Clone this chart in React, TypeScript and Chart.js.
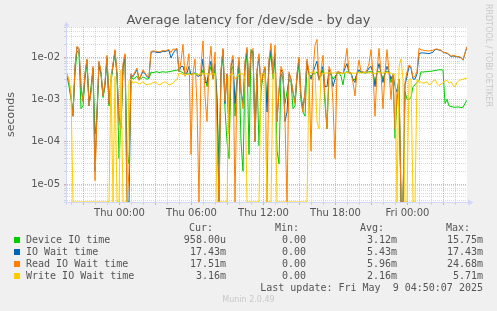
import React, { useEffect, useRef } from 'react';
import { Chart, registerables } from 'chart.js';

Chart.register(...registerables);

// ---- time axis (hours relative to Thu 00:00) ----
const START_HOUR = -4.375; // first sample, Wed 19:37
const STEP_HOUR = 1 / 6; // one sample every 10 minutes
const X_MIN = -4.375;
const X_MAX = 28.958;
const X_TICK_LABELS: Record<string, string> = {
  '0': 'Thu 00:00',
  '6': 'Thu 06:00',
  '12': 'Thu 12:00',
  '18': 'Thu 18:00',
  '24': 'Fri 00:00',
};

// ---- value axis (seconds, logarithmic) ----
const Y_MIN = 3.76e-6;
const Y_MAX = 0.0512;
const Y_TICK_LABELS: Record<string, string> = {
  '-5': '1e-05',
  '-4': '1e-04',
  '-3': '1e-03',
  '-2': '1e-02',
};

// ---- series ----
const SERIES_NAMES = ['Device IO time', 'IO Wait time', 'Read IO Wait time', 'Write IO Wait time'];
const SERIES_COLORS = ['#00CC00', '#0066B3', '#FF8000', '#FFCC00'];

const READ_WAIT = [
  0.004, 0.0025, 0.0012, 0.0004, 0.006, 0.018, 0.016, 0.002, 0.0009, 0.004,
  0.009, 0.0007, 0.0015, 0.006, 0.000012, 0.0005, 0.008, 0.0045, 0.0012, 0.0025,
  0.011, 0.0008, 0.003, 0.007, 0.015, 0.004, 0.0003, 0.0002, 0.007, 0.012,
  0, 0.00002, 0.004, 0.0035, 0.0045, 0.0055, 0.0028, 0.0038, 0.005, 0.0042,
  0.0036, 0.0034, 0.0135, 0.014, 0.0138, 0.0135, 0.0132, 0.0137, 0.0142, 0.0139,
  0.0145, 0.015, 0.0128, 0.0155, 0.0152, 0.016, 0.0045, 0.008, 0.02, 0.0035,
  0.006, 0.012, 0.00005, 0.0042, 0.009, 0.0007, 0, 0.006, 0.024, 0.0012,
  0.0003, 0.006, 0.018, 0.003, 0.013, 0.0002, 0, 0.005, 0.016, 0.0009,
  0.004, 0.00015, 0.007, 0.011, 0, 0.003, 0.01, 0.0015, 0.0006, 0.008,
  0.017, 0.002, 0.014, 0.016, 0.0001, 0.005, 0.012, 0.002, 0.004, 0.006,
  0, 0.009, 0.021, 0.004, 0.019, 0.0003, 0.0017, 0.006, 0.0045, 0.0003,
  0, 0.0045, 0.003, 0.0015, 0.0008, 0.004, 0.01, 0.0012, 0.0005, 0.0015,
  0.009, 0.0042, 0.00006, 0.0045, 0.019, 0.026, 0.0028, 0.0045, 0.011, 0.0012,
  0.0002, 0.006, 0.0045, 0.0008, 0.00004, 0.0045, 0.0045, 0.0042, 0.004, 0.0075,
  0.016, 0.0043, 0.0042, 0.0025, 0.0012, 0.0042, 0.0085, 0.0045, 0.0045, 0.0043,
  0.005, 0.007, 0.015, 0.0042, 0.0004, 0.0045, 0.016, 0.0042, 0.0006, 0.0043,
  0.015, 0.0045, 0.001, 0.004, 0.0002, 0.0015, 0.003, 0, 0, 0.0025,
  0.0045, 0.0065, 0.006, 0.0033, 0.0035, 0.0045, 0.016, 0.0148, 0.0145, 0.0142,
  0.014, 0.0139, 0.0142, 0.0145, 0.0152, 0.0155, 0.0148, 0.0146, 0.013, 0.0128,
  0.0125, 0.0115, 0.0105, 0.0108, 0.0106, 0.0103, 0.0102, 0.0098, 0.0085, 0.0125,
  0.01751,
];

const IO_WAIT = [
  0.004, 0.0025, 0.0012, 0.0004, 0.006, 0.017, 0.015, 0.002, 0.0009, 0.004,
  0.0085, 0.0007, 0.0015, 0.0055, 0.00002, 0.0005, 0.0075, 0.0042, 0.0012, 0.0024,
  0.01, 0.0008, 0.003, 0.0065, 0.014, 0.004, 0.0004, 0.0002, 0.006, 0.011,
  0, 0, 0.004, 0.0034, 0.0042, 0.005, 0.003, 0.0036, 0.0046, 0.004,
  0.0034, 0.0033, 0.013, 0.0133, 0.0133, 0.0128, 0.0127, 0.013, 0.0136, 0.0134,
  0.014, 0.0143, 0.0095, 0.012, 0.0145, 0.0152, 0.0045, 0.006, 0.006, 0.004,
  0.0042, 0.006, 0.0038, 0.0041, 0.0042, 0.0036, 0.0035, 0.004, 0.009, 0.0025,
  0.0025, 0.005, 0.008, 0.0035, 0.007, 0.0012, 0, 0.0045, 0.015, 0.0008,
  0.004, 0.0002, 0.006, 0.009, 0.0008, 0.003, 0.008, 0.0015, 0.0008, 0.007,
  0.015, 0.002, 0.013, 0.014, 0.0001, 0.0045, 0.01, 0.002, 0.004, 0.0055,
  0.0005, 0.008, 0.015, 0.004, 0.012, 0.0003, 0.0015, 0.005, 0.004, 0.0003,
  0.0005, 0.004, 0.003, 0.0015, 0.0009, 0.0038, 0.009, 0.0012, 0.0006, 0.0015,
  0.008, 0.004, 0.003, 0.0043, 0.006, 0.008, 0.003, 0.0042, 0.006, 0.002,
  0.002, 0.005, 0.004, 0.002, 0.003, 0.0043, 0.0043, 0.0042, 0.004, 0.0055,
  0.007, 0.0042, 0.0042, 0.003, 0.0025, 0.0042, 0.005, 0.0044, 0.0044, 0.0042,
  0.0045, 0.0055, 0.006, 0.0042, 0.002, 0.0044, 0.007, 0.0042, 0.0025, 0.0042,
  0.006, 0.0044, 0.003, 0.004, 0.002, 0.0015, 0.003, 0, 0, 0.0022,
  0.0035, 0.006, 0.0055, 0.003, 0.003, 0.004, 0.012, 0.0125, 0.0125, 0.0124,
  0.0122, 0.012, 0.0125, 0.013, 0.015, 0.0152, 0.0146, 0.0144, 0.0128, 0.0126,
  0.0122, 0.0113, 0.0103, 0.0106, 0.0104, 0.0101, 0.01, 0.0096, 0.0084, 0.0123,
  0.01743,
];

const DEVICE_IO = [
  0.0035, 0.002, 0.001, 0.0005, 0.004, 0.014, 0.012, 0.0006, 0.0007, 0.003,
  0.007, 0.0008, 0.002, 0.005, 0.00015, 0.0004, 0.006, 0.004, 0.0011, 0.002,
  0.009, 0.0007, 0.0025, 0.006, 0.013, 0.0035, 0.00004, 0.0003, 0.0055, 0.009,
  0.00006, 0.00003, 0.0035, 0.003, 0.0032, 0.0035, 0.0029, 0.0031, 0.0034, 0.0032,
  0.003, 0.0031, 0.0044, 0.0043, 0.0044, 0.0045, 0.0043, 0.0044, 0.0045, 0.0044,
  0.0044, 0.0045, 0.0046, 0.0047, 0.0048, 0.0049, 0.005, 0.0045, 0.0042, 0.0041,
  0.004, 0.004, 0.004, 0.004, 0.0041, 0.004, 0.0038, 0.0035, 0.005, 0.0035,
  0.002, 0.004, 0.006, 0.003, 0.005, 0.0008, 0.00003, 0.004, 0.011, 0.0006,
  0.0001, 0.00004, 0.005, 0.006, 0.0004, 0.002, 0.007, 0.0001, 0.00002, 0.005,
  0.012, 0.00005, 0.015, 0.012, 0.0002, 0.004, 0.00008, 0.0015, 0.004, 0.004,
  0.0009, 0.006, 0.012, 0.003, 0.01, 0.00006, 0.00003, 0.004, 0.003, 0.0008,
  0.0015, 0.003, 0.0025, 0.0006, 0.0007, 0.003, 0.007, 0.0009, 0.0005, 0.0004,
  0.006, 0.004, 0.0035, 0.004, 0.004, 0.0045, 0.003, 0.0035, 0.005, 0.0008,
  0.0002, 0.004, 0.004, 0.003, 0.0035, 0.004, 0.0042, 0.0035, 0.0022, 0.0043,
  0.0045, 0.0042, 0.0042, 0.0028, 0.003, 0.0042, 0.0045, 0.0043, 0.0044, 0.0042,
  0.0043, 0.0045, 0.0045, 0.0042, 0.0025, 0.0043, 0.0046, 0.0042, 0.003, 0.0042,
  0.0046, 0.0043, 0.0025, 0.0035, 0.00012, 0.001, 0.002, 0, 0, 0.0015,
  0.001, 0.001, 0.0011, 0.002, 0.0022, 0.0025, 0.0028, 0.0045, 0.0044, 0.0045,
  0.0045, 0.0046, 0.0046, 0.0047, 0.0048, 0.0049, 0.005, 0.005, 0.0049, 0.0008,
  0.001, 0.0007, 0.00068, 0.00066, 0.00065, 0.00066, 0.00066, 0.00064, 0.00065, 0.0008,
  0.000958,
];

const WRITE_WAIT = [
  0.004, 0.003, 0.0015, 0, 0, 0, 0, 0, 0, 0,
  0, 0, 0, 0, 0, 0, 0, 0, 0, 0,
  0, 0, 0.004, 0, 0.0035, 0, 0, 0.005, 0, 0,
  0, 0.0028, 0.003, 0.0024, 0.0026, 0.0025, 0.0023, 0.0024, 0.0026, 0.0023,
  0.0022, 0.0023, 0.0023, 0.0025, 0.0026, 0.0024, 0.0022, 0.0023, 0.0025, 0.0026,
  0.0024, 0.0022, 0.0023, 0.0024, 0.0028, 0.0029, 0.0042, 0.004, 0.0039, 0.0039,
  0.0039, 0.0039, 0.0039, 0.004, 0.004, 0.0039, 0.0039, 0.004, 0.004, 0.004,
  0.004, 0.0039, 0.004, 0.004, 0.004, 0, 0, 0, 0, 0,
  0, 0.0035, 0.004, 0.004, 0.003, 0.0035, 0.004, 0.004, 0.004, 0.003,
  0, 0, 0, 0, 0, 0, 0, 0.004, 0.004, 0.004,
  0, 0, 0, 0.004, 0.004, 0, 0, 0, 0, 0,
  0, 0, 0, 0, 0, 0, 0, 0, 0, 0,
  0, 0.0042, 0.0043, 0.0044, 0.0045, 0.0003, 0.0002, 0.004, 0.004, 0.0042,
  0.0042, 0.0042, 0.0042, 0.0042, 0.0042, 0.0042, 0.0042, 0.0041, 0.0041, 0.0043,
  0.0043, 0.0042, 0.0042, 0.0042, 0.0041, 0.0042, 0.0043, 0.0042, 0.0042, 0.0043,
  0.0042, 0.0042, 0.0043, 0.0041, 0.0041, 0.0043, 0.0044, 0.0042, 0.0042, 0.0043,
  0.0043, 0.0042, 0.0042, 0.0038, 0.004, 0, 0.006, 0.009, 0.003, 0,
  0, 0.003, 0.003, 0, 0, 0.003, 0.0025, 0.0026, 0.0024, 0.0025,
  0.0026, 0.0022, 0.0023, 0.0027, 0.0029, 0.0024, 0.0021, 0.0023, 0.0025, 0.0027,
  0.0028, 0.0024, 0.0026, 0.0021, 0.002, 0.0025, 0.0028, 0.0029, 0.003, 0.0031,
  0.00316,
];

const SERIES_VALUES = [DEVICE_IO, IO_WAIT, READ_WAIT, WRITE_WAIT];

// ---- legend statistics (as printed) ----
const LEGEND_CUR = ['958.00u', '17.43m', '17.51m', '3.16m'];
const LEGEND_MIN = ['0.00', '0.00', '0.00', '0.00'];
const LEGEND_AVG = ['3.12m', '5.43m', '5.96m', '2.16m'];
const LEGEND_MAX = ['15.75m', '17.43m', '24.68m', '5.71m'];

const TITLE = 'Average latency for /dev/sde - by day';
const Y_TITLE = 'seconds';
const LAST_UPDATE = 'Last update: Fri May  9 04:50:07 2025';
const FOOTER = 'Munin 2.0.49';
const WATERMARK = 'RRDTOOL / TOBI OETIKER';

const W = 497;
const H = 311;
const GRID_MINOR = 'rgba(143,143,143,0.33)';
const GRID_MAJOR = 'rgba(222,79,79,0.45)';
const AXIS_COLOR = '#CFD6F8';
const TEXT_COLOR = '#555555';

const framePlugin = {
  id: 'rrdFrame',
  beforeDraw(chart: any) {
    const { ctx, chartArea } = chart;
    ctx.save();
    ctx.fillStyle = '#FFFFFF';
    ctx.fillRect(chartArea.left, chartArea.top, chartArea.right - chartArea.left, chartArea.bottom - chartArea.top);
    ctx.restore();
  },
  afterDraw(chart: any) {
    const { ctx, chartArea } = chart;
    const { left, right, top, bottom } = chartArea;
    ctx.save();
    ctx.strokeStyle = AXIS_COLOR;
    ctx.fillStyle = AXIS_COLOR;
    ctx.lineWidth = 1;
    ctx.beginPath();
    ctx.moveTo(left - 0.5, bottom + 3);
    ctx.lineTo(left - 0.5, top - 3);
    ctx.moveTo(left - 3, bottom + 0.5);
    ctx.lineTo(right + 3, bottom + 0.5);
    ctx.stroke();
    ctx.beginPath();
    ctx.moveTo(left - 3.5, top - 0.5);
    ctx.lineTo(left + 2.5, top - 0.5);
    ctx.lineTo(left - 0.5, top - 5.5);
    ctx.closePath();
    ctx.fill();
    ctx.beginPath();
    ctx.moveTo(right + 1, bottom - 2.5);
    ctx.lineTo(right + 1, bottom + 3.5);
    ctx.lineTo(right + 6.5, bottom + 0.5);
    ctx.closePath();
    ctx.fill();
    ctx.restore();
  },
};

function ChartCanvas() {
  const ref = useRef<HTMLCanvasElement | null>(null);
  useEffect(() => {
    if (!ref.current) return;
    const datasets = SERIES_VALUES.map((vals, s) => ({
      label: SERIES_NAMES[s],
      data: vals.map((v, i) => ({ x: START_HOUR + i * STEP_HOUR, y: v > 0 ? v : Y_MIN })),
      borderColor: SERIES_COLORS[s],
      backgroundColor: SERIES_COLORS[s],
      borderWidth: 1,
      pointRadius: 0,
      tension: 0,
      fill: false,
      order: SERIES_VALUES.length - s,
    }));
    const chart = new Chart(ref.current, {
      type: 'line',
      data: { datasets },
      plugins: [framePlugin],
      options: {
        animation: false,
        responsive: false,
        devicePixelRatio: 1,
        events: [],
        layout: { padding: { left: 0, right: 30, top: 27, bottom: 89 } },
        plugins: { legend: { display: false }, title: { display: false }, tooltip: { enabled: false } },
        scales: {
          x: {
            type: 'linear',
            min: X_MIN,
            max: X_MAX,
            bounds: 'data',
            afterFit: (s: any) => { s.height = 20; },
            afterBuildTicks: (s: any) => {
              const t: any[] = [];
              for (let h = Math.ceil(X_MIN); h <= Math.floor(X_MAX); h++) {
                t.push({ value: h, major: h % 3 === 0 });
              }
              s.ticks = t;
            },
            ticks: {
              autoSkip: false,
              maxRotation: 0,
              padding: 2,
              color: TEXT_COLOR,
              font: { family: 'DejaVu Sans', size: 10 },
              callback: (v: any) => X_TICK_LABELS[String(v)] ?? '',
            },
            grid: {
              color: (c: any) => (c.tick && c.tick.major ? GRID_MAJOR : GRID_MINOR),
              tickColor: (c: any) => (c.tick && c.tick.major ? GRID_MAJOR : 'rgba(143,143,143,0.3)'),
              tickLength: 3,
              lineWidth: 1,
            },
            border: { display: false, dash: [1, 1] },
          },
          y: {
            type: 'logarithmic',
            min: Y_MIN,
            max: Y_MAX,
            bounds: 'data',
            afterFit: (s: any) => { s.width = 67; },
            afterBuildTicks: (s: any) => {
              const t: any[] = [];
              for (let e = -6; e <= -1; e++) {
                for (let m = 1; m <= 9; m++) {
                  const v = m * Math.pow(10, e);
                  if (v >= Y_MIN && v <= Y_MAX) t.push({ value: v, major: m === 1 });
                }
              }
              s.ticks = t;
            },
            ticks: {
              autoSkip: false,
              padding: 4,
              color: TEXT_COLOR,
              font: { family: 'DejaVu Sans', size: 10 },
              callback: (v: any, i: number, ticks: any[]) =>
                ticks[i] && ticks[i].major ? Y_TICK_LABELS[String(Math.round(Math.log10(v)))] ?? '' : '',
            },
            grid: {
              color: (c: any) => (c.tick && c.tick.major ? GRID_MAJOR : GRID_MINOR),
              tickColor: (c: any) => (c.tick && c.tick.major ? GRID_MAJOR : 'rgba(143,143,143,0.3)'),
              tickLength: 3,
              lineWidth: 1,
            },
            border: { display: false, dash: [1, 1] },
            title: {
              display: true,
              text: Y_TITLE,
              color: TEXT_COLOR,
              font: { family: 'DejaVu Sans', size: 11 },
              padding: { top: 4.4, bottom: 0 },
            },
          },
        },
      },
    } as any);
    return () => chart.destroy();
  }, []);
  return <canvas ref={ref} width={W} height={H} style={{ position: 'absolute', left: 0, top: 0, width: W, height: H }} />;
}

const mono: React.CSSProperties = {
  position: 'absolute',
  fontFamily: '"DejaVu Sans Mono", monospace',
  fontSize: 10,
  lineHeight: '12px',
  color: TEXT_COLOR,
  whiteSpace: 'pre',
};

function Right({ edge, top, text }: { edge: number; top: number; text: string }) {
  return <div style={{ ...mono, top, right: W - edge, textAlign: 'right' }}>{text}</div>;
}

export default function App() {
  const rowTop = (i: number) => 234 + i * 12;
  return (
    <div style={{ position: 'absolute', left: 0, top: 0, width: W, height: H, background: '#F0F0F0', overflow: 'hidden' }}>
      <ChartCanvas />
      <div
        style={{
          position: 'absolute', left: 0, top: 12, width: W, textAlign: 'center',
          fontFamily: '"DejaVu Sans", sans-serif', fontSize: 13, lineHeight: '15px', color: TEXT_COLOR, whiteSpace: 'pre',
        }}
      >
        {TITLE}
      </div>
      <div
        style={{
          position: 'absolute', left: 483, top: 4, writingMode: 'vertical-rl',
          fontFamily: '"DejaVu Sans", sans-serif', fontSize: 8, lineHeight: '10px', color: '#C8C8C8', whiteSpace: 'pre',
        }}
      >
        {WATERMARK}
      </div>
      <Right edge={213} top={222} text="Cur:" />
      <Right edge={299} top={222} text="Min:" />
      <Right edge={384} top={222} text="Avg:" />
      <Right edge={470} top={222} text="Max:" />
      {SERIES_NAMES.map((name, i) => (
        <React.Fragment key={name}>
          <div style={{ position: 'absolute', left: 14, top: rowTop(i) + 3, width: 6, height: 6, background: SERIES_COLORS[i] }} />
          <div style={{ ...mono, left: 26, top: rowTop(i) }}>{name}</div>
          <Right edge={226} top={rowTop(i)} text={LEGEND_CUR[i]} />
          <Right edge={306} top={rowTop(i)} text={LEGEND_MIN[i]} />
          <Right edge={397} top={rowTop(i)} text={LEGEND_AVG[i]} />
          <Right edge={483} top={rowTop(i)} text={LEGEND_MAX[i]} />
        </React.Fragment>
      ))}
      <Right edge={483} top={282} text={LAST_UPDATE} />
      <div
        style={{
          position: 'absolute', left: 0, top: 295, width: W, textAlign: 'center',
          fontFamily: '"DejaVu Sans", sans-serif', fontSize: 8, lineHeight: '10px', color: '#C8C8C8',
        }}
      >
        {FOOTER}
      </div>
    </div>
  );
}
